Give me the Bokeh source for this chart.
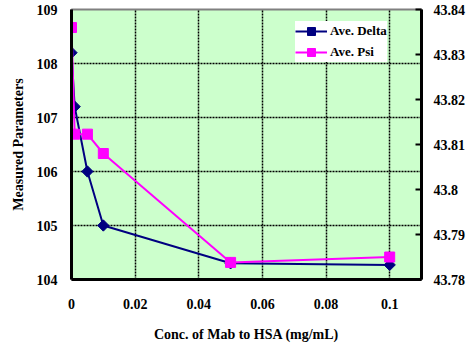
from bokeh.plotting import figure
from bokeh.models import (Range1d, LinearAxis, FixedTicker, PrintfTickFormatter,
                          Legend, LegendItem)
from bokeh.embed import file_html
from bokeh.resources import INLINE
import math

# ---- data ----
conc = [0, 0.001, 0.005, 0.01, 0.05, 0.1]
ave_delta = [108.2, 107.2, 106.0, 105.0, 104.3, 104.27]
ave_psi = [43.836, 43.8123, 43.8123, 43.808, 43.7838, 43.785]

x_ticks = [0, 0.02, 0.04, 0.06, 0.08, 0.1]
y_ticks = [104, 105, 106, 107, 108, 109]
y2_ticks = [43.78, 43.79, 43.8, 43.81, 43.82, 43.83, 43.84]
x_grid = [0.02, 0.04, 0.06, 0.08, 0.1]
y_grid = [105, 106, 107, 108]

FONT = "Liberation Serif"

p = figure(width=471, height=349, output_backend="svg", toolbar_location=None,
           x_range=Range1d(0, 0.11), y_range=Range1d(104, 109),
           min_border_left=71, min_border_top=9, min_border_right=50,
           min_border_bottom=70)
p.extra_y_ranges = {"psi": Range1d(43.78, 43.84)}

p.background_fill_color = "#CCFFCC"
p.border_fill_color = "white"
p.outline_line_color = "#808080"
p.outline_line_width = 2

# grids
p.xgrid.ticker = FixedTicker(ticks=x_grid)
p.ygrid.ticker = FixedTicker(ticks=y_grid)
for g in (p.xgrid, p.ygrid):
    g.grid_line_color = "black"
    g.grid_line_width = 1.5
    g.grid_line_dash = "2 1"

# axes styling
def style_axis(ax):
    ax.axis_line_color = "black"
    ax.axis_line_width = 3
    ax.major_label_text_font = FONT
    ax.major_label_text_font_style = "bold"
    ax.major_label_text_font_size = "14px"
    ax.major_label_text_color = "black"
    ax.axis_label_text_font = FONT
    ax.axis_label_text_font_style = "bold"
    ax.axis_label_text_font_size = "14px"
    ax.axis_label_text_color = "black"
    ax.minor_tick_line_color = None
    ax.major_tick_line_color = "black"
    ax.major_tick_line_width = 2

xa = p.xaxis[0]
style_axis(xa)
xa.ticker = FixedTicker(ticks=x_ticks)
xa.formatter = PrintfTickFormatter(format="%g")
xa.major_tick_in = 0
xa.major_tick_out = 0
xa.major_label_standoff = 19
xa.axis_label = "Conc. of Mab to HSA (mg/mL)"
xa.axis_label_standoff = 15

ya = p.yaxis[0]
style_axis(ya)
ya.ticker = FixedTicker(ticks=y_ticks)
ya.major_tick_in = 0
ya.major_tick_out = 0
ya.major_label_standoff = 14
ya.axis_label = "Measured Parameters"
ya.axis_label_standoff = 8

ra = LinearAxis(y_range_name="psi")
style_axis(ra)
ra.ticker = FixedTicker(ticks=y2_ticks)
ra.formatter = PrintfTickFormatter(format="%g")
ra.major_tick_in = 6
ra.major_tick_out = 0
ra.major_label_standoff = 12
p.add_layout(ra, "right")

# series
l1 = p.line(conc, ave_delta, line_color="#000080", line_width=2)
s1 = p.scatter(conc, ave_delta, marker="square", size=8, angle=math.pi / 4,
               fill_color="#000080", line_color="#000080")
l2 = p.line(conc, ave_psi, line_color="#FF00FF", line_width=2, y_range_name="psi")
s2 = p.scatter(conc, ave_psi, marker="square", size=10, fill_color="#FF00FF",
               line_color="#FF00FF", y_range_name="psi")

legend = Legend(items=[LegendItem(label="Ave. Delta", renderers=[l1, s1]),
                       LegendItem(label="Ave. Psi", renderers=[l2, s2])],
                location=(224, 217))
legend.margin = 0
legend.padding = 1
legend.spacing = 1
legend.glyph_width = 32
legend.glyph_height = 20
legend.label_height = 20
legend.label_standoff = 3
legend.label_text_font = FONT
legend.label_text_font_style = "bold"
legend.label_text_font_size = "13px"
legend.label_text_color = "black"
legend.border_line_color = None
legend.background_fill_color = "white"
legend.background_fill_alpha = 1
p.add_layout(legend, "center")

open("out.html", "w").write(file_html(p, INLINE))
